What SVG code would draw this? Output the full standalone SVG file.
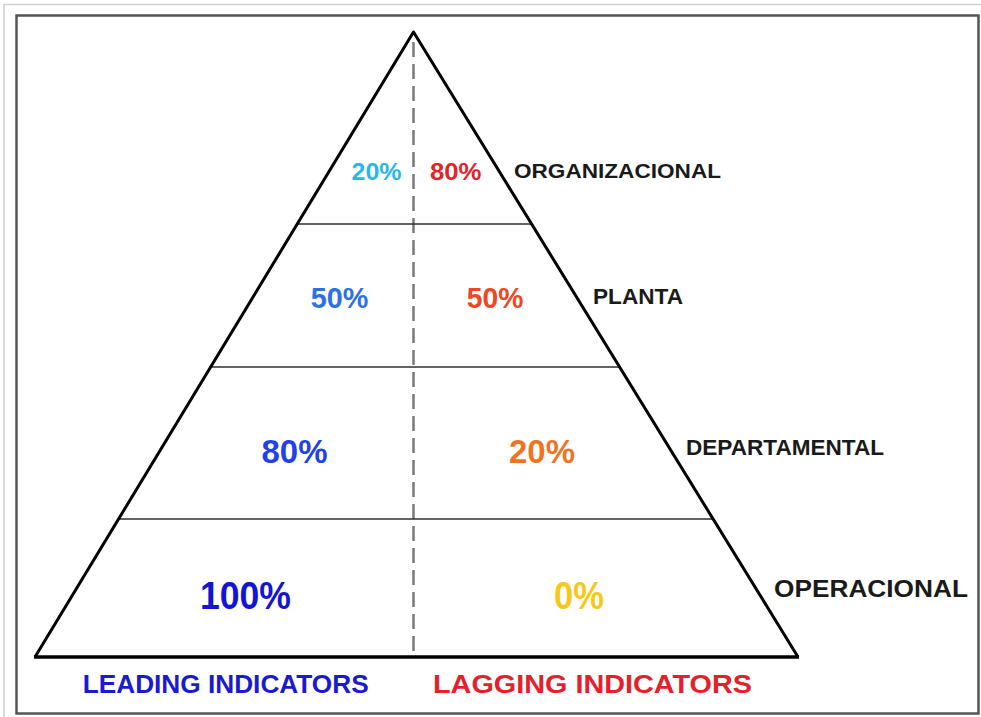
<svg xmlns="http://www.w3.org/2000/svg" width="981" height="717" viewBox="0 0 981 717">
  <style>
    .t { font-family: "Liberation Sans", Arial, Helvetica, sans-serif; font-weight: bold; }
    .lbl { fill: #1a1a1a; }
    .side { fill: none; stroke: #000; stroke-width: 3; stroke-linejoin: round; }
    .div { stroke: #2e2e2e; stroke-width: 1.6; }
    .axis { stroke: #7a7a7a; stroke-width: 2.5; stroke-dasharray: 15 7; }
  </style>
  <rect width="981" height="717" fill="#ffffff"/>
  <!-- page border and framed panel -->
  <rect x="4" y="4.5" width="1000" height="730" fill="none" stroke="#cfcfcf" stroke-width="1.5"/>
  <rect x="16.5" y="15.5" width="962" height="698" fill="#ffffff" stroke="#555555" stroke-width="2.5"/>

  <g id="connectors">
    <!-- vertical split between leading and lagging halves -->
    <line class="axis" x1="413.5" y1="42" x2="413.5" y2="656"/>
    <!-- level dividers -->
    <line class="div" x1="297" y1="224" x2="531" y2="224"/>
    <line class="div" x1="210.5" y1="367" x2="619.5" y2="367"/>
    <line class="div" x1="118.5" y1="519" x2="713" y2="519"/>
    <!-- pyramid outline -->
    <polyline class="side" points="35,657 413.5,32 798,657"/>
    <line x1="34" y1="657" x2="799" y2="657" stroke="#000" stroke-width="3.5"/>
  </g>

  <g id="organizacional">
    <text class="t" x="351.5" y="180" font-size="24" textLength="50" lengthAdjust="spacingAndGlyphs" fill="#2ab6ec">20%</text>
    <text class="t" x="430" y="180" font-size="24" textLength="51.5" lengthAdjust="spacingAndGlyphs" fill="#e4232b">80%</text>
    <text class="t lbl" x="514" y="177.5" font-size="21" textLength="207" lengthAdjust="spacingAndGlyphs">ORGANIZACIONAL</text>
  </g>

  <g id="planta">
    <text class="t" x="310.7" y="308" font-size="29" textLength="57.6" lengthAdjust="spacingAndGlyphs" fill="#2b72e6">50%</text>
    <text class="t" x="466.7" y="308" font-size="29" textLength="56.6" lengthAdjust="spacingAndGlyphs" fill="#ef4623">50%</text>
    <text class="t lbl" x="593" y="304" font-size="22" textLength="90" lengthAdjust="spacingAndGlyphs">PLANTA</text>
  </g>

  <g id="departamental">
    <text class="t" x="261.5" y="463" font-size="34" textLength="66" lengthAdjust="spacingAndGlyphs" fill="#1f43e4">80%</text>
    <text class="t" x="509" y="463" font-size="34" textLength="66" lengthAdjust="spacingAndGlyphs" fill="#f0741f">20%</text>
    <text class="t lbl" x="686" y="455" font-size="22" textLength="198" lengthAdjust="spacingAndGlyphs">DEPARTAMENTAL</text>
  </g>

  <g id="operacional">
    <text class="t" x="200" y="609" font-size="38" textLength="91" lengthAdjust="spacingAndGlyphs" fill="#1414d2">100%</text>
    <text class="t" x="554" y="609" font-size="38" textLength="50" lengthAdjust="spacingAndGlyphs" fill="#f6c81b">0%</text>
    <text class="t lbl" x="774" y="597" font-size="24" textLength="194" lengthAdjust="spacingAndGlyphs">OPERACIONAL</text>
  </g>

  <g id="leading">
    <text class="t" x="82.7" y="693" font-size="26" textLength="286" lengthAdjust="spacingAndGlyphs" fill="#1a1acf">LEADING INDICATORS</text>
  </g>
  <g id="lagging">
    <text class="t" x="433" y="693" font-size="26" textLength="319" lengthAdjust="spacingAndGlyphs" fill="#e6202b">LAGGING INDICATORS</text>
  </g>
</svg>
